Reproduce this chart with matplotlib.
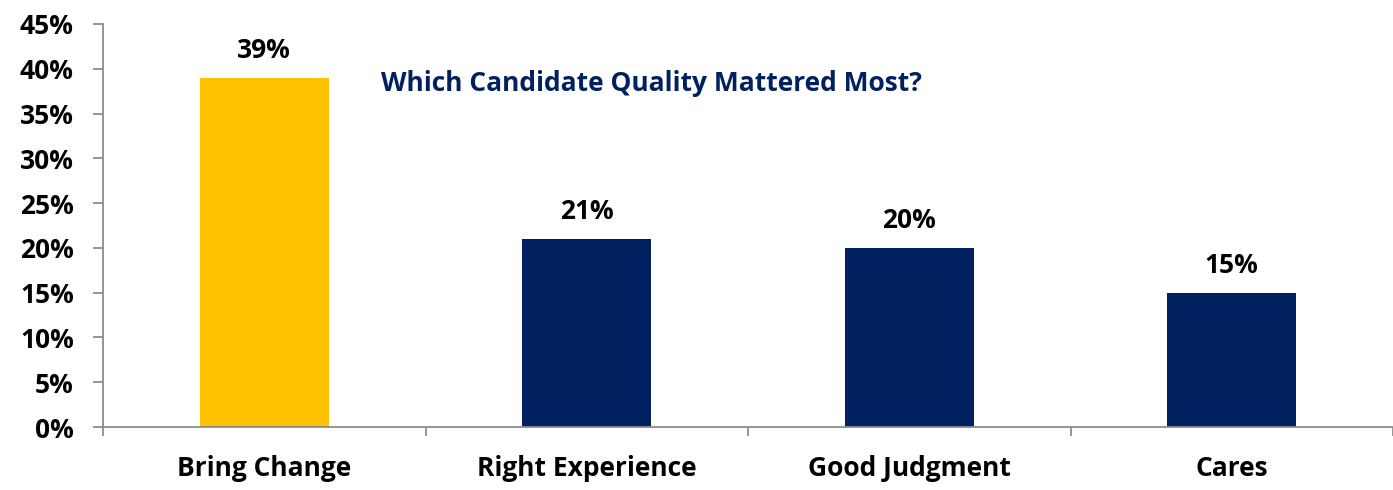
import matplotlib
matplotlib.use("Agg")
import matplotlib.pyplot as plt
from matplotlib.ticker import FuncFormatter, FixedLocator

categories = ["Bring Change", "Right Experience", "Good Judgment", "Cares"]
values = [39, 21, 20, 15]
bar_colors = ["#FFC000", "#002060", "#002060", "#002060"]
value_labels = ["39%", "21%", "20%", "15%"]
title = "Which Candidate Quality Mattered Most?"

plt.rcParams['font.family'] = ['Open Sans', 'DejaVu Sans']
plt.rcParams['font.weight'] = 'bold'
FS = 19

fig = plt.figure(figsize=(13.93, 4.90), dpi=100)
ax = fig.add_axes([103/1393, 1-427/490, 1-103/1393, (427-24)/490])

x = list(range(len(categories)))
ax.bar(x, values, width=0.4, color=bar_colors, zorder=2)

for xi, v, lab in zip(x, values, value_labels):
    ax.annotate(lab, (xi, v), xytext=(0, 14), textcoords='offset points',
                ha='center', va='baseline', fontsize=FS, fontweight='bold', color='black')

ax.set_xlim(-0.5, 3.5)
ax.set_ylim(0, 45)
ax.set_yticks(range(0, 46, 5))
ax.yaxis.set_major_formatter(FuncFormatter(lambda v, p: f"{int(v)}%"))
ax.set_xticks(x)
ax.set_xticklabels(categories)
ax.xaxis.set_minor_locator(FixedLocator([-0.5, 0.5, 1.5, 2.5, 3.5]))
ax.tick_params(axis='x', which='major', length=0, pad=20, labelsize=FS)
ax.tick_params(axis='x', which='minor', length=6.5, color='#8C8C8C', width=1.3, direction='out')
ax.tick_params(axis='y', length=7, color='#8C8C8C', width=1.3, direction='out', labelsize=FS, pad=14)
for lab in ax.get_xticklabels() + ax.get_yticklabels():
    lab.set_fontweight('bold')

for s in ['top', 'right']:
    ax.spines[s].set_visible(False)
for s in ['left', 'bottom']:
    ax.spines[s].set_color('#8C8C8C')
    ax.spines[s].set_linewidth(1.3)

ax.text(1.20, 38.4, title, ha='center', va='center', fontsize=FS, fontweight='bold', color='#002060')

fig.savefig("out.png", dpi=100)
